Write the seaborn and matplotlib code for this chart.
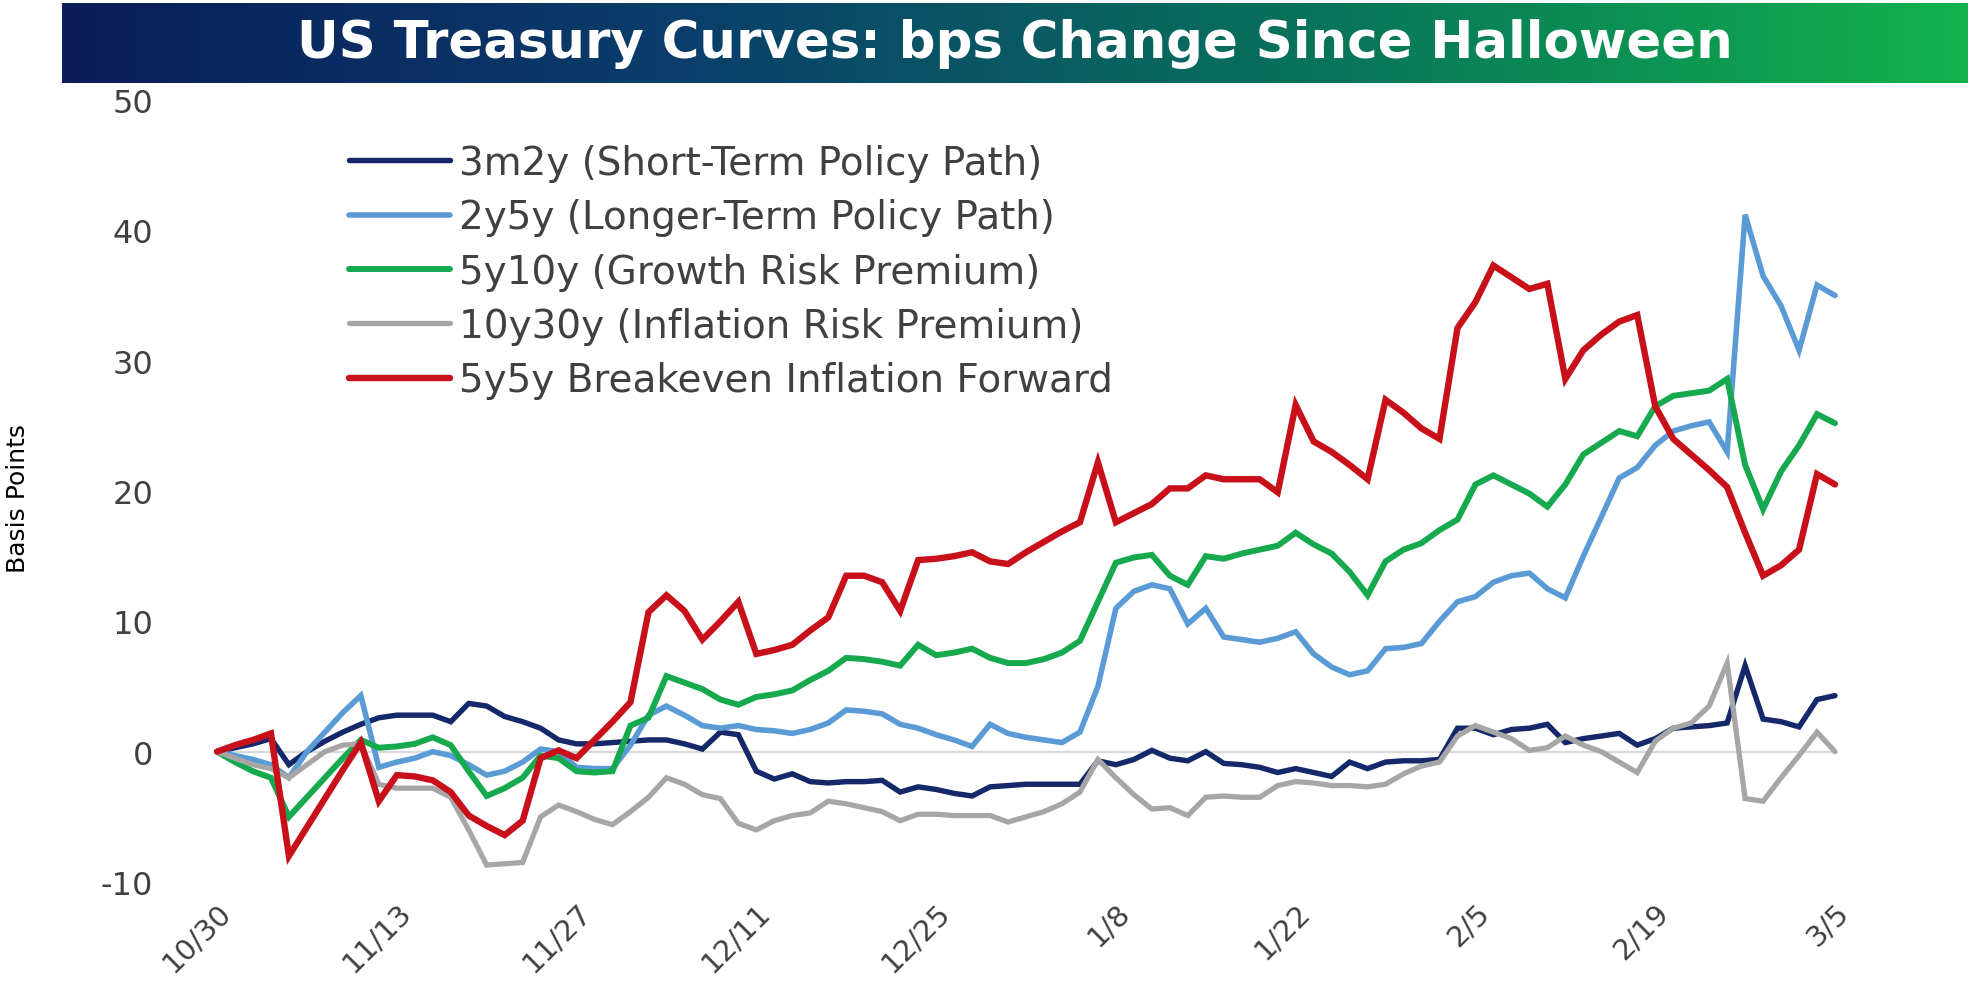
import numpy as np
import pandas as pd
import matplotlib
matplotlib.use("Agg")
import matplotlib.pyplot as plt
from matplotlib.colors import LinearSegmentedColormap
import seaborn as sns

sns.set_theme(style="white")
plt.rcParams['font.family'] = ['DejaVu Sans']
plt.rcParams['axes.unicode_minus'] = False

# weekdays from 10/30 to 3/5, evenly spaced like the original category axis
dates = pd.bdate_range('2017-10-30', '2018-03-05')
tick_labels = ['10/30', '11/13', '11/27', '12/11', '12/25', '1/8', '1/22', '2/5', '2/19', '3/5']

# bps change since 10/30
s3m2y = [0, 0.3, 0.6, 1.0, -1.0, 0.0, 0.8, 1.5, 2.1, 2.6,
         2.8, 2.8, 2.8, 2.3, 3.7, 3.5, 2.7, 2.3, 1.8, 0.9,
         0.6, 0.6, 0.7, 0.8, 0.9, 0.9, 0.6, 0.2, 1.5, 1.3,
         -1.5, -2.1, -1.7, -2.3, -2.4, -2.3, -2.3, -2.2, -3.1, -2.7,
         -2.9, -3.2, -3.4, -2.7, -2.6, -2.5, -2.5, -2.5, -2.5, -0.7,
         -1.0, -0.6, 0.1, -0.5, -0.7, 0.0, -0.9, -1.0, -1.2, -1.6,
         -1.3, -1.6, -1.9, -0.8, -1.3, -0.8, -0.7, -0.7, -0.6, 1.8,
         1.8, 1.3, 1.7, 1.8, 2.1, 0.7, 1.0, 1.2, 1.4, 0.5,
         1.0, 1.8, 1.9, 2.0, 2.2, 6.6, 2.5, 2.3, 1.9, 4.0,
         4.3]
s2y5y = [0, -0.3, -0.6, -1.0, -2.0, 0.0, 1.5, 3.0, 4.3, -1.2,
         -0.8, -0.5, 0.0, -0.3, -1.0, -1.8, -1.5, -0.8, 0.2, 0.0,
         -1.2, -1.3, -1.3, 0.5, 2.8, 3.5, 2.8, 2.0, 1.8, 2.0,
         1.7, 1.6, 1.4, 1.7, 2.2, 3.2, 3.1, 2.9, 2.1, 1.8,
         1.3, 0.9, 0.4, 2.1, 1.4, 1.1, 0.9, 0.7, 1.5, 5.0,
         11.0, 12.3, 12.8, 12.5, 9.8, 11.0, 8.8, 8.6, 8.4, 8.7,
         9.2, 7.5, 6.5, 5.9, 6.2, 7.9, 8.0, 8.3, 10.0, 11.5,
         11.9, 13.0, 13.5, 13.7, 12.5, 11.8, 15.0, 18.0, 21.0, 21.8,
         23.5, 24.6, 25.0, 25.3, 23.0, 41.2, 36.5, 34.2, 30.8, 35.8,
         35.0]
s5y10y = [0, -0.8, -1.5, -2.0, -5.0, -3.5, -2.0, -0.5, 0.9, 0.3,
          0.4, 0.6, 1.1, 0.5, -1.5, -3.4, -2.8, -2.0, -0.3, -0.5,
          -1.5, -1.6, -1.5, 2.0, 2.6, 5.8, 5.3, 4.8, 4.0, 3.6,
          4.2, 4.4, 4.7, 5.5, 6.2, 7.2, 7.1, 6.9, 6.6, 8.2,
          7.4, 7.6, 7.9, 7.2, 6.8, 6.8, 7.1, 7.6, 8.5, 11.5,
          14.5, 14.9, 15.1, 13.5, 12.8, 15.0, 14.8, 15.2, 15.5, 15.8,
          16.8, 15.9, 15.2, 13.8, 12.0, 14.6, 15.5, 16.0, 17.0, 17.8,
          20.5, 21.2, 20.5, 19.8, 18.8, 20.5, 22.8, 23.7, 24.6, 24.2,
          26.5, 27.3, 27.5, 27.7, 28.6, 22.0, 18.6, 21.5, 23.5, 25.9,
          25.2]
s10y30y = [0, -0.5, -1.0, -1.3, -2.0, -1.0, 0.0, 0.5, 0.6, -2.5,
           -2.8, -2.8, -2.8, -3.5, -6.0, -8.7, -8.6, -8.5, -5.0, -4.1,
           -4.6, -5.2, -5.6, -4.6, -3.5, -2.0, -2.5, -3.3, -3.6, -5.5,
           -6.0, -5.3, -4.9, -4.7, -3.8, -4.0, -4.3, -4.6, -5.3, -4.8,
           -4.8, -4.9, -4.9, -4.9, -5.4, -5.0, -4.6, -4.0, -3.1, -0.6,
           -2.0, -3.3, -4.4, -4.3, -4.9, -3.5, -3.4, -3.5, -3.5, -2.6,
           -2.3, -2.4, -2.6, -2.6, -2.7, -2.5, -1.7, -1.1, -0.8, 1.2,
           2.0, 1.5, 1.0, 0.1, 0.3, 1.2, 0.5, 0.0, -0.8, -1.6,
           0.8, 1.8, 2.2, 3.5, 6.8, -3.6, -3.8, -2.0, -0.3, 1.5,
           0.0]
s5y5y_bei = [0, 0.5, 0.9, 1.4, -8.0, -5.8, -3.6, -1.4, 0.7, -3.8,
             -1.8, -1.9, -2.2, -3.1, -4.9, -5.7, -6.4, -5.3, -0.5, 0.1,
             -0.5, 0.9, 2.3, 3.8, 10.7, 12.0, 10.8, 8.6, 10.0, 11.5,
             7.5, 7.8, 8.2, 9.3, 10.3, 13.5, 13.5, 13.0, 10.8, 14.7,
             14.8, 15.0, 15.3, 14.6, 14.4, 15.3, 16.1, 16.9, 17.6, 22.2,
             17.6, 18.3, 19.0, 20.2, 20.2, 21.2, 20.9, 20.9, 20.9, 19.9,
             26.6, 23.8, 23.0, 22.0, 20.9, 27.0, 26.0, 24.8, 24.0, 32.5,
             34.5, 37.3, 36.4, 35.5, 35.9, 28.6, 30.8, 32.0, 33.0, 33.5,
             26.5, 24.0, 22.8, 21.6, 20.3, 16.8, 13.5, 14.3, 15.5, 21.3,
             20.5]

names = ['3m2y (Short-Term Policy Path)', '2y5y (Longer-Term Policy Path)',
         '5y10y (Growth Risk Premium)', '10y30y (Inflation Risk Premium)',
         '5y5y Breakeven Inflation Forward']
colors = ['#14286a', '#5b9bd5', '#17a94d', '#a6a6a6', '#c8101a']
widths = [3.9, 4.0, 4.3, 3.8, 4.6]

df = pd.DataFrame({'pos': np.arange(len(dates))})
for name, vals in zip(names, [s3m2y, s2y5y, s5y10y, s10y30y, s5y5y_bei]):
    df[name] = vals
long_df = df.melt(id_vars='pos', var_name='series', value_name='bps')

fig = plt.figure(figsize=(19.77, 9.87), dpi=100)
fig.patch.set_facecolor('white')

# title banner
cmap = LinearSegmentedColormap.from_list('banner', ['#0b1d5a', '#0a3f6b', '#08745a', '#12b24c'])
bax = fig.add_axes([62 / 1977, 1 - 84 / 987, 1906 / 1977, 80 / 987])
bax.imshow(np.linspace(0, 1, 512)[None, :], aspect='auto', cmap=cmap, extent=[0, 1, 0, 1])
bax.axis('off')
bax.text(0.5, 0.5, 'US Treasury Curves: bps Change Since Halloween', color='white',
         fontsize=37, fontweight='bold', ha='center', va='center', transform=bax.transAxes)

ax = fig.add_axes([217 / 1977, 1 - 883 / 987, 1618 / 1977, 782 / 987])
ax.axhline(0, color='#d9d9d9', lw=1.6, zorder=0)
for name, col, lw in zip(names, colors, widths):
    sub = long_df[long_df['series'] == name]
    sns.lineplot(data=sub, x='pos', y='bps', color=col, linewidth=lw, label=name,
                 ax=ax, estimator=None, solid_joinstyle='miter')
for ln in ax.lines:
    ln.set_clip_on(False)

ax.set_xlim(0, 90)
ax.set_ylim(-10, 50)
ax.set_yticks(range(-10, 51, 10))
ax.set_xticks(df['pos'][::10])
ax.set_xticklabels(tick_labels, rotation=45, ha='right', va='top', rotation_mode='anchor')
ax.tick_params(axis='y', length=0, pad=46, labelsize=23, labelcolor='#404040')
ax.tick_params(axis='x', length=0, pad=11, labelsize=21, labelcolor='#404040')
ax.set_xlabel('')
ax.set_ylabel('')
sns.despine(ax=ax, left=True, bottom=True)

fig.text(0.003, 0.495, 'Basis Points', rotation=90, va='center', ha='left', fontsize=18, color='black')

leg = ax.legend(loc='upper left', bbox_to_anchor=(349 / 1977, 1 - 145 / 987), bbox_transform=fig.transFigure,
                frameon=False, fontsize=28, handlelength=2.6, handletextpad=0.22,
                labelspacing=0.42, borderpad=0, borderaxespad=0)
for t in leg.get_texts():
    t.set_color('#404040')

fig.savefig('out.png', dpi=100, facecolor='white')
